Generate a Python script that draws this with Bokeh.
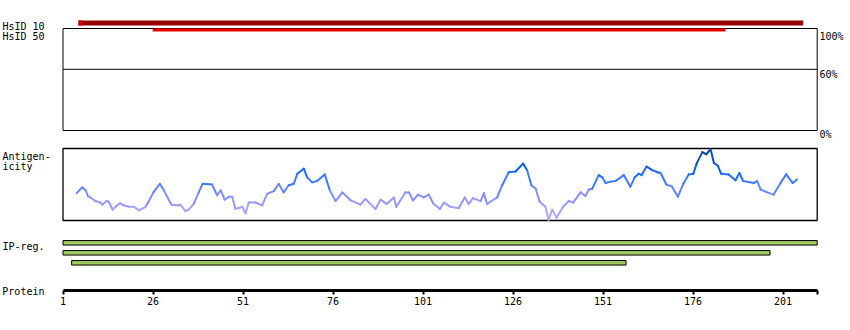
from bokeh.plotting import figure
from bokeh.models import Range1d, LinearAxis, FixedTicker, Label
from bokeh.embed import file_html
from bokeh.resources import INLINE

# ---------------- data ----------------
protein_length = 210
tick_values = [1, 26, 51, 76, 101, 126, 151, 176, 201]

hsid_names = ["HsID 10", "HsID 50"]
hsid_start = [5.3, 25.9]
hsid_end = [206.6, 185.0]
hsid_colors = ["#990000", "#ee0000"]

identity_levels = [100, 60, 0]
identity_labels = ["100%", "60%", "0%"]

ipreg_start = [1.0, 1.0, 3.4]
ipreg_end = [210.5, 197.4, 157.4]

ag_pos = [4.8, 6.3, 7.3, 7.9, 8.6, 10.0, 11.4, 11.9, 13.1, 13.7, 14.8, 15.6, 16.8, 17.9, 19.3, 20.7,
          22.1, 23.9, 24.4, 26.1, 27.9, 29.0, 31.1, 33.2, 33.6, 35.0, 35.9, 37.3, 38.7, 39.8, 42.4,
          43.8, 44.8, 45.9, 47.1, 48.0, 48.9, 50.8, 51.7, 52.6, 54.5, 56.3, 57.7, 59.6, 60.9, 62.3,
          63.7, 65.1, 66.1, 67.9, 68.8, 70.2, 71.6, 73.7, 75.1, 76.7, 78.6, 80.9, 83.6, 85.0, 86.4,
          87.8, 89.2, 90.9, 92.9, 93.6, 96.1, 97.1, 98.2, 99.6, 101.2, 102.6, 103.8, 105.7, 106.8,
          108.6, 110.9, 112.6, 113.7, 114.9, 117.0, 117.9, 118.8, 121.6, 123.0, 124.8, 126.7, 128.8,
          129.9, 131.1, 132.3, 133.4, 135.0, 135.9, 136.9, 138.1, 139.9, 141.5, 142.7, 144.8, 146.1,
          147.1, 148.0, 149.8, 150.8, 151.7, 153.1, 154.5, 156.8, 158.6, 159.8, 160.9, 161.7, 163.1,
          164.7, 166.1, 167.0, 168.6, 170.2, 171.8, 173.3, 174.8, 176.1, 177.0, 178.6, 179.7, 180.9,
          181.8, 182.9, 183.8, 185.9, 187.8, 188.9, 189.9, 192.9, 193.8, 194.8, 197.1, 198.4, 200.3,
          201.9, 203.7, 204.9]
ag_val = [0.38, 0.46, 0.42, 0.34, 0.32, 0.27, 0.25, 0.22, 0.27, 0.26, 0.15, 0.19, 0.24, 0.21, 0.19, 0.19,
          0.14, 0.19, 0.23, 0.39, 0.51, 0.42, 0.22, 0.21, 0.22, 0.13, 0.15, 0.23, 0.39, 0.51, 0.50,
          0.35, 0.42, 0.29, 0.33, 0.33, 0.16, 0.19, 0.10, 0.25, 0.25, 0.21, 0.37, 0.41, 0.51, 0.39,
          0.49, 0.51, 0.65, 0.72, 0.60, 0.53, 0.55, 0.64, 0.42, 0.27, 0.39, 0.28, 0.22, 0.30, 0.23,
          0.16, 0.29, 0.23, 0.32, 0.19, 0.39, 0.39, 0.28, 0.36, 0.32, 0.36, 0.24, 0.16, 0.25,
          0.19, 0.17, 0.32, 0.23, 0.31, 0.27, 0.38, 0.23, 0.32, 0.49, 0.67, 0.68, 0.79,
          0.70, 0.49, 0.44, 0.26, 0.19, 0.01, 0.15, 0.04, 0.19, 0.27, 0.25, 0.39, 0.34,
          0.43, 0.44, 0.63, 0.60, 0.52, 0.54, 0.55, 0.63, 0.47, 0.60, 0.65, 0.63, 0.75,
          0.70, 0.67, 0.66, 0.50, 0.47, 0.33, 0.51, 0.64, 0.65, 0.79, 0.95, 0.92, 0.99,
          0.80, 0.76, 0.65, 0.64, 0.56, 0.66, 0.55, 0.52, 0.55, 0.43, 0.38, 0.36, 0.52,
          0.64, 0.52, 0.57]

# ---------------- layout geometry (pixels) ----------------
W, H = 850, 330
FRAME_H = 290
X_RES1 = 62.5          # pixel of residue 1
PX_PER_RES = 3.6
ID_TOP, ID_BOT = 28, 130
AG_TOP, AG_BOT = 148, 220
FONT = "DejaVu Sans Mono"
FS = "10px"


def px_to_res(px):
    return 1 + (px - X_RES1) / PX_PER_RES


def band_range(lo, hi, top_px, bot_px):
    s = (bot_px - top_px) / (hi - lo)
    return Range1d(start=lo - (FRAME_H - bot_px) / s, end=hi + top_px / s)


p = figure(width=W, height=H, output_backend="svg", toolbar_location=None,
           x_axis_location=None, y_axis_location=None,
           x_range=Range1d(px_to_res(0), px_to_res(W)),
           y_range=Range1d(FRAME_H, 0),
           min_border_left=0, min_border_right=0, min_border_top=0, min_border_bottom=H - FRAME_H)
p.outline_line_color = None
p.background_fill_color = "white"
p.border_fill_color = "white"
p.grid.visible = False
p.extra_x_ranges = {"px": Range1d(0, W)}
p.extra_y_ranges = {"id": band_range(0, 100, ID_TOP, ID_BOT),
                    "ag": band_range(0, 1, AG_TOP, AG_BOT)}

box_right = protein_length + 0.5

# identity panel box and 60% line
p.quad(left=[1], right=[box_right], bottom=[0], top=[100], y_range_name="id",
       fill_color=None, line_color="black", line_width=1)
p.segment(x0=[1], x1=[box_right], y0=[identity_levels[1]], y1=[identity_levels[1]],
          y_range_name="id", line_color="black", line_width=1)

# HsID bars
p.hbar(y=[22.5, 29.5], left=hsid_start, right=hsid_end, height=[5, 3],
       fill_color=hsid_colors, line_color=None)
p.hbar(y=[22.5], left=[hsid_start[0]], right=[hsid_start[0] + 1.1], height=[5],
       fill_color="#d40000", line_color=None)

# antigenicity panel
p.quad(left=[1], right=[box_right], bottom=[0], top=[1], y_range_name="ag",
       fill_color=None, line_color="black", line_width=1.3)

palette = ["#b4a6f4", "#a6a4ff", "#9898ff", "#848eff", "#6285ff", "#3d7bff",
           "#1f6cff", "#0b5ee6", "#0851c0", "#0a479c"]
x0 = ag_pos[:-1]
x1 = ag_pos[1:]
y0 = ag_val[:-1]
y1 = ag_val[1:]
cols = [palette[min(9, int((a + b) / 2 * 10))] for a, b in zip(y0, y1)]
p.segment(x0=x0, x1=x1, y0=y0, y1=y1, line_color=cols, line_width=2,
          line_cap="round", y_range_name="ag")

# IP-reg bars
p.hbar(y=[242.3, 252.3, 262.3], left=ipreg_start, right=ipreg_end, height=4.5,
       fill_color="#9dc95f", line_color="black", line_width=1)

# protein axis
ax = LinearAxis(ticker=FixedTicker(ticks=tick_values, minor_ticks=[box_right]),
                bounds=(1, box_right))
ax.axis_line_width = 3
ax.axis_line_color = "black"
ax.major_tick_line_color = "black"
ax.minor_tick_line_color = "black"
ax.major_tick_line_width = 2
ax.major_tick_out = 4
ax.major_tick_in = 0
ax.minor_tick_line_width = 2
ax.minor_tick_out = 4
ax.minor_tick_in = 0
ax.major_label_text_font = FONT
ax.major_label_text_font_size = FS
ax.major_label_text_color = "black"
ax.major_label_standoff = 2
p.add_layout(ax, "below")

# row title "Protein" as the single label of a second, line-less axis
protein_label_res = -10
ax2 = LinearAxis(ticker=FixedTicker(ticks=[protein_label_res], minor_ticks=[]),
                 major_label_overrides={protein_label_res: "Protein"})
ax2.axis_line_color = None
ax2.major_tick_line_color = None
ax2.minor_tick_line_color = None
ax2.major_tick_out = 0
ax2.major_tick_in = 0
ax2.minor_tick_out = 0
ax2.minor_tick_in = 0
ax2.major_label_text_font = FONT
ax2.major_label_text_font_size = FS
ax2.major_label_text_color = "black"
ax2.major_label_standoff = -22
p.add_layout(ax2, "below")

# texts
left_texts = ["HsID 10", "HsID 50", "Antigen-", "icity", "IP-reg."]
left_y = [26, 36, 156, 166, 246]
for t, y in zip(left_texts, left_y):
    p.add_layout(Label(x=2, y=y, text=t, x_range_name="px", text_font=FONT,
                       text_font_size=FS, text_baseline="alphabetic", text_color="black"))

right_y = [36, 74, 133.5]
for t, y in zip(identity_labels, right_y):
    p.add_layout(Label(x=819, y=y, text=t, x_range_name="px", text_font=FONT,
                       text_font_size=FS, text_baseline="alphabetic", text_color="black"))

open("out.html", "w").write(file_html(p, INLINE))
